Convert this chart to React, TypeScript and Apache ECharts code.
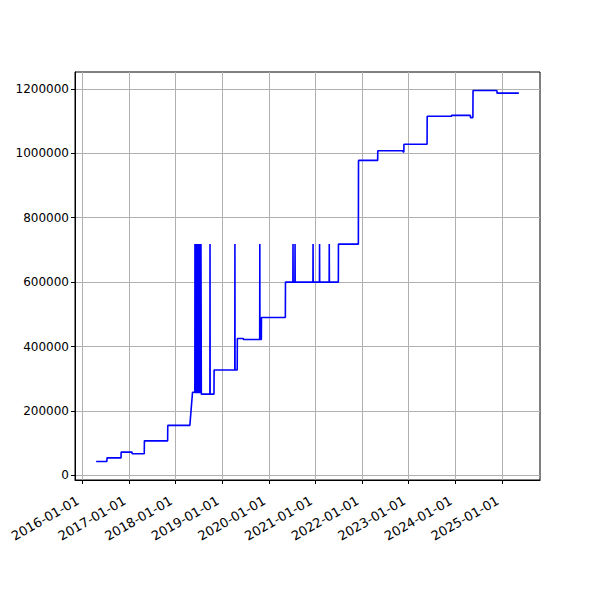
import React, { useEffect, useRef } from "react";
import * as echarts from "echarts";

// Observed series (date, value)
const dates: string[] = [
  "2016-04-19", "2016-07-12", "2016-07-13", "2016-10-31", "2016-11-01",
  "2017-01-25", "2017-01-26", "2017-05-01", "2017-05-02", "2017-10-31",
  "2017-11-01", "2018-04-23", "2018-05-14", "2018-06-01",
  "2018-06-02", "2018-06-04", "2018-06-07", "2018-06-10", "2018-06-13",
  "2018-06-16", "2018-06-19", "2018-06-22", "2018-06-25", "2018-06-28",
  "2018-07-01", "2018-07-04", "2018-07-07", "2018-07-10", "2018-07-13",
  "2018-07-16", "2018-07-19", "2018-07-22",
  "2018-09-27", "2018-09-28", "2018-09-29", "2018-10-29", "2018-10-30",
  "2019-04-10", "2019-04-11", "2019-04-12", "2019-04-29", "2019-04-30",
  "2019-06-15", "2019-06-16", "2019-10-22", "2019-10-23", "2019-10-24",
  "2019-11-04", "2019-11-05", "2020-05-10", "2020-05-11",
  "2020-07-08", "2020-07-09", "2020-07-10", "2020-07-24", "2020-07-25", "2020-07-26",
  "2020-12-12", "2020-12-13", "2020-12-14", "2021-02-01", "2021-02-02", "2021-02-03",
  "2021-04-18", "2021-04-19", "2021-04-20",
  "2021-06-29", "2021-06-30", "2021-12-03", "2021-12-04",
  "2022-05-03", "2022-05-04", "2022-11-17", "2022-11-18", "2022-11-24", "2022-11-25",
  "2023-05-25", "2023-05-26", "2023-12-02", "2023-12-03",
  "2024-04-28", "2024-04-29", "2024-05-18", "2024-05-19",
  "2024-11-22", "2024-11-23", "2025-05-13",
];
const values: number[] = [
  43000, 43000, 54000, 54000, 72000,
  72000, 67000, 67000, 107000, 107000,
  155000, 155000, 258000, 258000,
  718000, 255000, 718000, 255000, 718000,
  255000, 718000, 255000, 718000, 255000,
  718000, 255000, 718000, 255000, 718000,
  255000, 718000, 252000,
  252000, 718000, 252000, 252000, 327000,
  327000, 718000, 327000, 327000, 425000,
  425000, 422000, 422000, 718000, 422000,
  422000, 490000, 490000, 600000,
  600000, 718000, 600000, 600000, 718000, 600000,
  600000, 718000, 600000, 600000, 718000, 600000,
  600000, 718000, 600000,
  600000, 718000, 718000, 978000,
  978000, 1008000, 1008000, 1004000, 1004000, 1028000,
  1028000, 1115000, 1115000, 1118000,
  1118000, 1111000, 1111000, 1195000,
  1195000, 1187000, 1187000,
];
const xTickLabels: string[] = [
  "2016-01-01", "2017-01-01", "2018-01-01", "2019-01-01", "2020-01-01",
  "2021-01-01", "2022-01-01", "2023-01-01", "2024-01-01", "2025-01-01",
];
const yTicks: number[] = [0, 200000, 400000, 600000, 800000, 1000000, 1200000];

const toTs = (s: string) => {
  const [y, m, d] = s.split("-").map(Number);
  return Date.UTC(y, m - 1, d);
};
const fmt = (v: number) => {
  const d = new Date(v);
  const p = (n: number) => String(n).padStart(2, "0");
  return `${d.getUTCFullYear()}-${p(d.getUTCMonth() + 1)}-${p(d.getUTCDate())}`;
};

export default function App() {
  const ref = useRef<HTMLDivElement>(null);
  useEffect(() => {
    if (!ref.current) return;
    const chart = echarts.init(ref.current, null, { renderer: "svg" });
    const ts = dates.map(toTs);
    const xMin0 = Math.min(...ts), xMax0 = Math.max(...ts);
    const xm = (xMax0 - xMin0) * 0.05;
    const yMin0 = Math.min(...values), yMax0 = Math.max(...values);
    const ym = (yMax0 - yMin0) * 0.05;
    const xTicks = xTickLabels.map(toTs);
    const font = "DejaVu Sans";
    chart.setOption({
      animation: false,
      backgroundColor: "#fff",
      grid: {
        left: 75, right: 60, top: 72, bottom: 120,
        show: true, borderColor: "#000", borderWidth: 1,
        backgroundColor: "transparent",
      },
      xAxis: {
        type: "value",
        min: xMin0 - xm,
        max: xMax0 + xm,
        axisLine: { show: true, onZero: false, lineStyle: { color: "#000", width: 1 } },
        axisTick: {
          show: true, length: 4, inside: false,
          lineStyle: { color: "#000", width: 1 },
          customValues: xTicks,
        },
        axisLabel: {
          show: true, rotate: 30, margin: 17, color: "#000",
          fontFamily: font, fontSize: 13,
          padding: [0, 5, 0, 0],
          customValues: xTicks,
          formatter: (v: number) => fmt(v),
        },
        splitLine: { show: true, lineStyle: { color: "#b0b0b0", width: 1 } },
      },
      yAxis: {
        type: "value",
        min: yMin0 - ym,
        max: yMax0 + ym,
        axisLine: { show: true, onZero: false, lineStyle: { color: "#000", width: 1 } },
        axisTick: {
          show: true, length: 4, inside: false,
          lineStyle: { color: "#000", width: 1 },
          customValues: yTicks,
        },
        axisLabel: {
          show: true, margin: 6, color: "#000",
          fontFamily: font, fontSize: 12,
          customValues: yTicks,
          formatter: (v: number) => String(v),
        },
        splitLine: { show: true, lineStyle: { color: "#b0b0b0", width: 1 } },
      },
      series: [
        {
          type: "line",
          data: ts.map((t, i) => [t, values[i]]),
          showSymbol: false,
          symbol: "none",
          lineStyle: { color: "#0000ff", width: 1.6 },
          itemStyle: { color: "#0000ff" },
        },
      ],
    });
    return () => chart.dispose();
  }, []);
  return (
    <div
      ref={ref}
      style={{ position: "absolute", left: 0, top: 0, width: 600, height: 600 }}
    />
  );
}
